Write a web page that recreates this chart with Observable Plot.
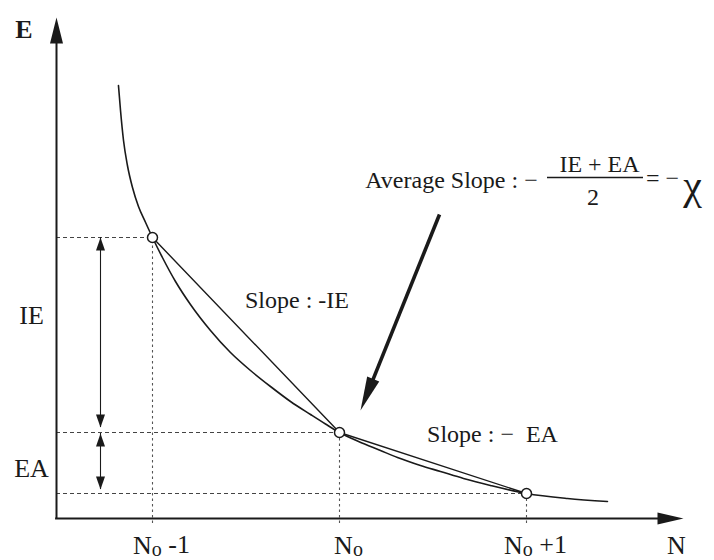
<!DOCTYPE html>
<html><head><meta charset="utf-8">
<script src="https://cdn.jsdelivr.net/npm/d3@7"></script>
<script src="https://cdn.jsdelivr.net/npm/@observablehq/plot@0.6"></script>
<style>body{margin:0;background:#fff}</style>
</head><body><div id="chart"></div>
<script>
// ---- data (N in electron units: N0-1 = 1, N0 = 2, N0+1 = 3; E arbitrary units) ----
const tickN = [1, 2, 3];
const tickLabels = ["No -1", "No", "No +1"];
const pointE = [28.1, 8.6, 2.5];
const curveN = [0.818, 0.829, 0.845, 0.866, 0.893, 0.925, 0.963, 1.000, 1.053, 1.123, 1.203, 1.310, 1.417, 1.524, 1.631, 1.738, 1.845, 1.925, 2.000, 2.102, 2.219, 2.310, 2.433, 2.540, 2.663, 2.807, 3.000, 3.219, 3.433];
const curveE = [43.3, 40.8, 37.8, 35.3, 33.1, 31.2, 29.6, 28.1, 26.1, 23.7, 21.4, 18.8, 16.6, 14.8, 13.2, 11.7, 10.4, 9.45, 8.6, 7.7, 6.8, 6.1, 5.3, 4.7, 4.0, 3.3, 2.5, 2.0, 1.7];
const ieSpan = [28.1, 9.1];
const eaSpan = [8.5, 2.9];

const points = tickN.map((N, i) => ({N, E: pointE[i], label: tickLabels[i]}));
const curve = curveN.map((N, i) => ({N, E: curveE[i]}));

const xCfg = {domain: [1, 3], range: [152, 526]};
const yCfg = {domain: [0, 10], range: [518, 418]};
const X = d3.scaleLinear(xCfg.domain, xCfg.range);
const Y = d3.scaleLinear(yCfg.domain, yCfg.range);

const axisN = X.invert(56);
const yTipE = Y.invert(17);
const xTipN = X.invert(683);
const arrowX = X.invert(100);

const ink = "#1a1a1a";
const serif = "Liberation Serif, Times New Roman, serif";

// filled arrowhead symbol: tip at anchor, pointing up
const head = (L, W) => ({draw(ctx) { ctx.moveTo(0, 0); ctx.lineTo(W / 2, L); ctx.lineTo(-W / 2, L); ctx.closePath(); }});

// big pointer arrow
const ptrStart = {N: X.invert(439), E: Y.invert(214)};
const ptrTip = {N: X.invert(360), E: Y.invert(410)};
const dxp = X(ptrTip.N) - X(ptrStart.N), dyp = Y(ptrTip.E) - Y(ptrStart.E);
const ptrAngle = Math.atan2(dxp, -dyp) * 180 / Math.PI;
const len = Math.hypot(dxp, dyp);
const ptrShaftEnd = {N: X.invert(X(ptrTip.N) - dxp / len * 18), E: Y.invert(Y(ptrTip.E) - dyp / len * 18)};

const txt = (items, opts = {}) => Plot.text(items, {x: "N", y: "E", text: "t", fontFamily: serif, fill: ink, fontSize: 24, ...opts});

const plot = Plot.plot({
  width: 714,
  height: 560,
  x: {...xCfg, axis: null},
  y: {...yCfg, axis: null},
  marks: [
    // guide lines
    Plot.ruleY(points, {y: "E", x1: axisN, x2: "N", stroke: "#444", strokeWidth: 1.1, strokeDasharray: "4,3"}),
    Plot.ruleX(points, {x: "N", y1: -0.5, y2: "E", stroke: "#555", strokeWidth: 1.1, strokeDasharray: "2.5,3"}),
    // axes
    Plot.ruleX([axisN], {y1: 0, y2: yTipE - 1.5, stroke: ink, strokeWidth: 2}),
    Plot.ruleY([0], {x1: axisN - 0.005, x2: xTipN - 0.08, stroke: ink, strokeWidth: 2}),
    Plot.dot([{N: axisN, E: yTipE}], {x: "N", y: "E", symbol: head(26, 13), fill: ink, stroke: "none"}),
    Plot.dot([{N: xTipN, E: 0}], {x: "N", y: "E", symbol: head(26, 12), rotate: 90, fill: ink, stroke: "none"}),
    // IE / EA double arrows
    Plot.ruleX([arrowX], {y1: ieSpan[0], y2: ieSpan[1], stroke: ink, strokeWidth: 1.1}),
    Plot.ruleX([arrowX], {y1: eaSpan[0], y2: eaSpan[1], stroke: ink, strokeWidth: 1.1}),
    Plot.dot([{N: arrowX, E: ieSpan[0]}, {N: arrowX, E: eaSpan[0]}], {x: "N", y: "E", symbol: head(13, 9), fill: ink, stroke: "none"}),
    Plot.dot([{N: arrowX, E: ieSpan[1]}, {N: arrowX, E: eaSpan[1]}], {x: "N", y: "E", symbol: head(13, 9), rotate: 180, fill: ink, stroke: "none"}),
    // curve and secants
    Plot.line(curve, {x: "N", y: "E", curve: "monotone-x", stroke: ink, strokeWidth: 1.6}),
    Plot.line(points, {x: "N", y: "E", stroke: ink, strokeWidth: 1.4}),
    Plot.dot(points, {x: "N", y: "E", r: 5, fill: "white", stroke: ink, strokeWidth: 1.5}),
    // pointer arrow
    Plot.link([0], {x1: ptrStart.N, y1: ptrStart.E, x2: ptrShaftEnd.N, y2: ptrShaftEnd.E, stroke: ink, strokeWidth: 3.6}),
    Plot.dot([ptrTip], {x: "N", y: "E", symbol: head(34, 13), rotate: ptrAngle, fill: ink, stroke: "none"}),
    // labels
    txt([{N: X.invert(23.5), E: Y.invert(29), t: "E"}], {fontSize: 26, fontWeight: "bold"}),
    txt([{N: X.invert(31), E: Y.invert(315), t: "IE"}], {fontSize: 26}),
    txt([{N: X.invert(31), E: Y.invert(468.5), t: "EA"}], {fontSize: 26}),
    txt(points.map(d => ({N: d.N, E: Y.invert(545), t: d.label})), {fontSize: 26, dx: 9}),
    txt([{N: X.invert(676), E: Y.invert(545), t: "N"}], {fontSize: 26}),
    txt([{N: X.invert(296.5), E: Y.invert(300), t: "Slope : -IE"}]),
    txt([{N: X.invert(492), E: Y.invert(434), t: "Slope : \u2212\u00a0 EA"}]),
    txt([{N: X.invert(451), E: Y.invert(180.3), t: "Average Slope : \u2212"}]),
    txt([{N: X.invert(599), E: Y.invert(164.3), t: "IE + EA"}]),
    Plot.ruleY([Y.invert(177)], {x1: X.invert(547), x2: X.invert(643), stroke: ink, strokeWidth: 1.3}),
    txt([{N: X.invert(592.5), E: Y.invert(197.3), t: "2"}]),
    txt([{N: X.invert(662), E: Y.invert(177.5), t: "= \u2212"}], {fontSize: 24}),
    txt([{N: X.invert(692), E: Y.invert(185), t: "\u03c7"}], {fontSize: 42})
  ]
});

// subscript "o" in the N0 tick labels
d3.select(plot).selectAll("text").filter(function () { return tickLabels.includes(this.textContent); }).each(function () {
  const s = this.textContent;
  const el = d3.select(this);
  el.text(null);
  el.append("tspan").text(s[0]);
  el.append("tspan").attr("font-size", "20px").attr("dy", "0.1em").text(s[1]);
  if (s.length > 2) el.append("tspan").attr("dy", "-0.1em").text(s.slice(2));
});

document.getElementById("chart").append(plot);
</script>
</body></html>
